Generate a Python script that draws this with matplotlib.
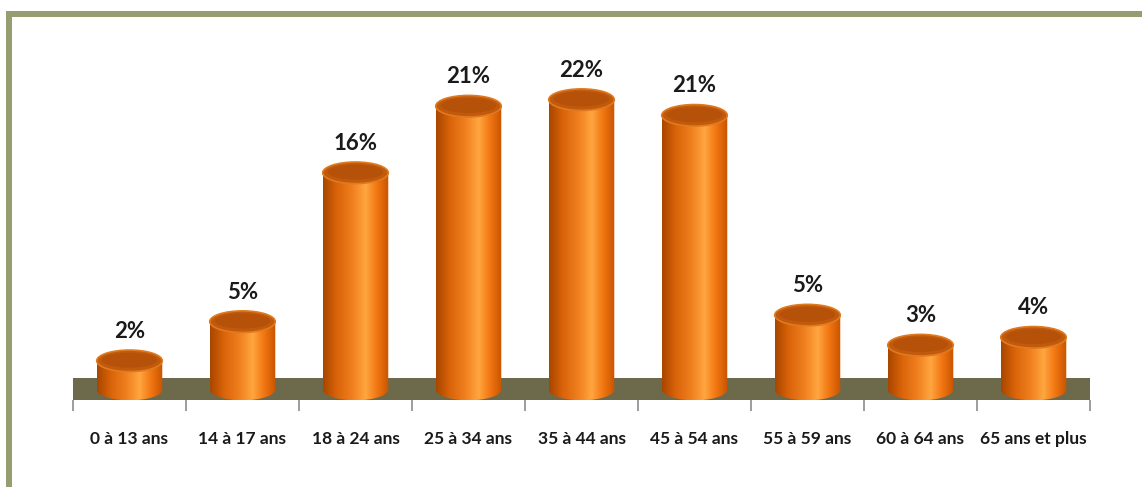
import matplotlib

matplotlib.use("Agg")

import matplotlib.pyplot as plt
import numpy as np
from matplotlib.colors import LinearSegmentedColormap
from matplotlib.patches import Ellipse, PathPatch, Rectangle
from matplotlib.path import Path

categories = ["0 à 13 ans", "14 à 17 ans", "18 à 24 ans", "25 à 34 ans", "35 à 44 ans",
              "45 à 54 ans", "55 à 59 ans", "60 à 64 ans", "65 ans et plus"]
# bar heights (labels are the rounded figures)
values = [2.0, 5.0, 16.4, 21.5, 22.0, 20.8, 5.5, 3.2, 3.8]
labels = ["2%", "5%", "16%", "21%", "22%", "21%", "5%", "3%", "4%"]

FRAME = "#969d70"
FLOOR = "#6d6a4c"
BAR_W = 0.58
ELL_H = 1.65
BASE = -0.2

body_cmap = LinearSegmentedColormap.from_list(
    "body",
    [(0.0, "#a84600"), (0.2, "#d86208"), (0.45, "#f08020"), (0.65, "#ffa640"),
     (0.82, "#f27612"), (1.0, "#c85400")],
)

plt.rcParams["font.family"] = ["Lato", "DejaVu Sans"]

fig = plt.figure(figsize=(11.42, 4.87), dpi=100)

# frame (top and left olive lines)
fig.add_artist(Rectangle((6 / 1142, 0), 6 / 1142, (487 - 11) / 487, transform=fig.transFigure,
                         facecolor=FRAME, edgecolor="none"))
fig.add_artist(Rectangle((6 / 1142, (487 - 17) / 487), 1136 / 1142, 6 / 487, transform=fig.transFigure,
                         facecolor=FRAME, edgecolor="none"))

ax = fig.add_axes([73 / 1142, 87 / 487, 1017 / 1142, 380 / 487])
ax.set_xlim(-0.5, len(categories) - 0.5)
ax.set_ylim(-1.0, 28.1)
for s in ax.spines.values():
    s.set_visible(False)

# floor
ax.add_patch(Rectangle((-0.5, -1.0), len(categories), 1.7, facecolor=FLOOR, edgecolor="none", zorder=1))

grad = np.linspace(0, 1, 256).reshape(1, -1)
for i, v in enumerate(values):
    x0, x1 = i - BAR_W / 2, i + BAR_W / 2
    # body outline: rectangle plus the lower half of the base ellipse
    t = np.linspace(np.pi, 2 * np.pi, 60)
    bottom = np.column_stack([i + BAR_W / 2 * np.cos(t), BASE + ELL_H / 2 * np.sin(t)])
    verts = np.vstack([[[x0, v]], bottom, [[x1, v]], [[x0, v]]])
    codes = [Path.MOVETO] + [Path.LINETO] * (len(verts) - 2) + [Path.CLOSEPOLY]
    clip = PathPatch(Path(verts, codes), facecolor="none", edgecolor="none")
    ax.add_patch(clip)
    im = ax.imshow(grad, cmap=body_cmap, aspect="auto", extent=[x0, x1, BASE - ELL_H, v],
                   interpolation="bilinear", zorder=2)
    im.set_clip_path(clip)
    # top cap
    ax.add_patch(Ellipse((i, v), BAR_W, ELL_H, facecolor="#c25a0c", edgecolor="#e07a20",
                         linewidth=1.2, zorder=3))
    ax.add_patch(Ellipse((i, v + 0.05), BAR_W * 0.85, ELL_H * 0.7, facecolor="#b24e0a",
                         edgecolor="none", zorder=3, alpha=0.7))
    ax.text(i, v + 1.45, labels[i], ha="center", va="bottom", fontsize=16,
            fontweight="bold", color="#1a1a1a", zorder=4)

ax.set_xticks(np.arange(len(categories) + 1) - 0.5, minor=True)
ax.set_xticks(np.arange(len(categories)))
ax.set_xticklabels(categories, fontsize=12.5, fontweight="bold", color="#1a1a1a")
ax.tick_params(axis="x", which="major", length=0, pad=22)
ax.tick_params(axis="x", which="minor", length=8, color="#8c8c8c", width=1.2, direction="out")
ax.set_yticks([])

fig.savefig("out.png", dpi=100)
